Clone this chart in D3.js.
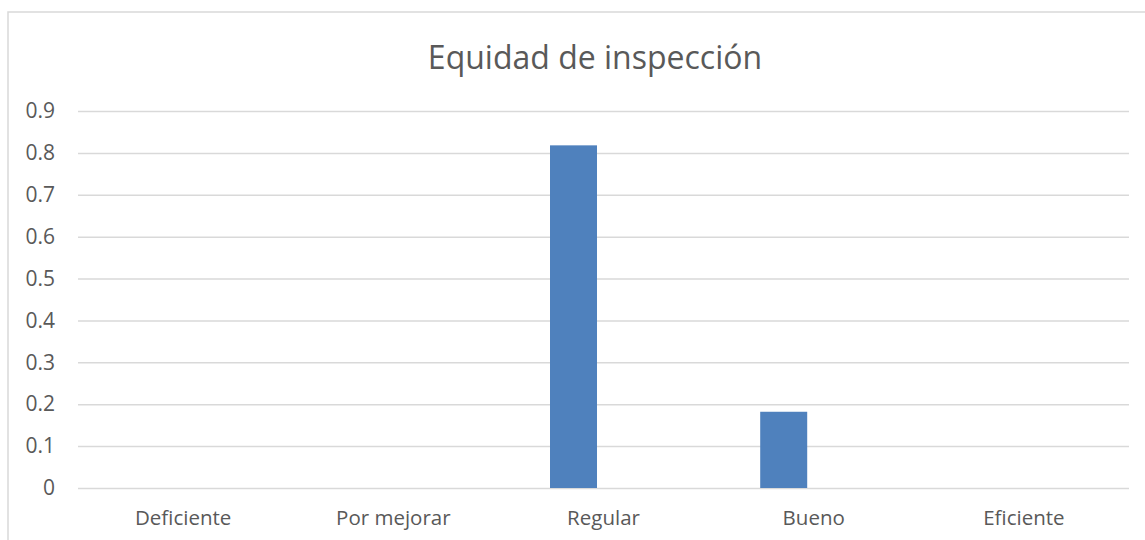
<!DOCTYPE html>
<html>
<head>
<meta charset="utf-8">
<script src="https://cdn.jsdelivr.net/npm/d3@7"></script>
<style>
  body { margin: 0; background: #fff; }
  text { font-family: "Open Sans", "Noto Sans", sans-serif; fill: #595959; }
</style>
</head>
<body>
<div id="chart"></div>
<script>
// data
var categories = ["Deficiente", "Por mejorar", "Regular", "Bueno", "Eficiente"];
var values = [0, 0, 0.818, 0.182, 0];
var yTicks = [0, 0.1, 0.2, 0.3, 0.4, 0.5, 0.6, 0.7, 0.8, 0.9];
var title = "Equidad de inspección";

var svg = d3.select("#chart")
    .append("svg")
    .attr("width", 1145)
    .attr("height", 540),
    margin = { top: 111, right: 16, bottom: 52, left: 78 },
    width = +svg.attr("width") - margin.left - margin.right,
    height = +svg.attr("height") - margin.top - margin.bottom;

// chart area border
svg.append("rect")
    .attr("x", 8)
    .attr("y", 12)
    .attr("width", 1200)
    .attr("height", 600)
    .attr("fill", "none")
    .attr("stroke", "#d9d9d9")
    .attr("stroke-width", 1.5);

var g = svg.append("g")
    .attr("transform", "translate(" + margin.left + "," + margin.top + ")");

var x = d3.scaleBand().domain(categories).range([0, width]).padding(0);
var y = d3.scaleLinear().domain([0, 0.9]).range([height, 0]);

// grid
g.append("g")
    .attr("class", "grid")
    .call(d3.axisLeft(y).tickValues(yTicks).tickSize(-width).tickFormat(""))
    .call(function (s) { s.select(".domain").remove(); })
    .selectAll("line")
    .attr("stroke", "#d9d9d9")
    .attr("stroke-width", 1.5);

// y labels
g.append("g")
    .call(d3.axisLeft(y).tickValues(yTicks).tickSize(0).tickPadding(23).tickFormat(function (d) { return d === 0 ? "0" : d3.format(".1f")(d); }))
    .call(function (s) { s.select(".domain").remove(); })
    .selectAll("text")
    .style("font-size", "21px")
    .attr("fill", "#595959");

// bars sit left of the band centre (first slot of a cluster)
var barLeft = 0.2455, barW = 0.2236;
g.selectAll(".bar")
    .data(values)
    .enter().append("rect")
    .attr("class", "bar")
    .attr("x", function (d, i) { return x(categories[i]) + x.bandwidth() * barLeft; })
    .attr("width", x.bandwidth() * barW)
    .attr("y", function (d) { return y(d); })
    .attr("height", function (d) { return height - y(d); })
    .attr("fill", "#4f81bd");

// x labels
g.append("g")
    .attr("transform", "translate(0," + height + ")")
    .call(d3.axisBottom(x).tickSize(0).tickPadding(22))
    .call(function (s) { s.select(".domain").remove(); })
    .selectAll("text")
    .style("font-size", "20.5px")
    .attr("fill", "#595959");

// title
svg.append("text")
    .attr("x", 595)
    .attr("y", 69)
    .attr("text-anchor", "middle")
    .style("font-size", "32px")
    .text(title);
</script>
</body>
</html>
